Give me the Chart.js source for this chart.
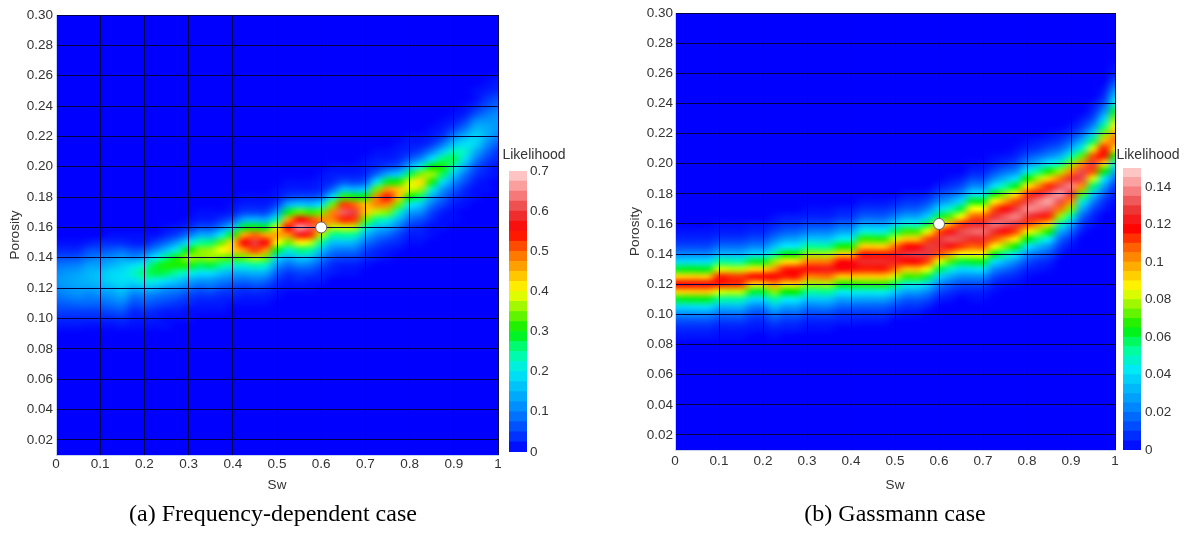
<!DOCTYPE html>
<html><head><meta charset="utf-8">
<script src="https://cdn.jsdelivr.net/npm/chart.js@4.4.0/dist/chart.umd.min.js"></script>
<style>
html,body{margin:0;padding:0;background:#fff;width:1189px;height:540px;overflow:hidden;position:relative}
.box{position:absolute}
.cap{position:absolute;top:499px;font-family:"Liberation Serif","Times New Roman",serif;font-size:24px;line-height:28px;color:#000;white-space:nowrap;transform:translateX(-50%)}
</style></head><body>
<div class="box" style="left:0;top:0;width:510px;height:500px"><canvas id="ca"></canvas></div>
<div class="box" style="left:620px;top:0;width:510px;height:500px"><canvas id="cb"></canvas></div>
<div class="box" style="left:499px;top:145px;width:70px;height:318px"><canvas id="cbarA"></canvas></div>
<div class="box" style="left:1113px;top:145px;width:70px;height:317px"><canvas id="cbarB"></canvas></div>
<div class="cap" style="left:273px">(a) Frequency-dependent case</div>
<div class="cap" style="left:895px">(b) Gassmann case</div>
<script>
// ---------- grid coordinates ----------
const swGrid = [0,0.025,0.05,0.075,0.1,0.125,0.15,0.175,0.2,0.225,0.25,0.275,0.3,0.325,0.35,0.375,0.4,0.425,0.45,0.475,0.5,0.525,0.55,0.575,0.6,0.625,0.65,0.675,0.7,0.725,0.75,0.775,0.8,0.825,0.85,0.875,0.9,0.925,0.95,0.975,1];
const porosityRows = [0.01,0.015,0.02,0.025,0.03,0.035,0.04,0.045,0.05,0.055,0.06,0.065,0.07,0.075,0.08,0.085,0.09,0.095,0.1,0.105,0.11,0.115,0.12,0.125,0.13,0.135,0.14,0.145,0.15,0.155,0.16,0.165,0.17,0.175,0.18,0.185,0.19,0.195,0.2,0.205,0.21,0.215,0.22,0.225,0.23,0.235,0.24,0.245,0.25,0.255,0.26,0.265,0.27,0.275,0.28,0.285,0.29,0.295,0.3];
const swTicks = [0,0.1,0.2,0.3,0.4,0.5,0.6,0.7,0.8,0.9,1];
const porosityTicks = [0.02,0.04,0.06,0.08,0.1,0.12,0.14,0.16,0.18,0.2,0.22,0.24,0.26,0.28,0.3];
const markerSw = [0.6];
const markerPorosity = [0.16];

// ---------- (a) frequency-dependent case: per Sw column, lowest listed porosity + likelihoods upward (0.005 steps) ----------
const bandStartA = [0.095,0.095,0.095,0.095,0.095,0.095,0.095,0.095,0.095,0.095,0.095,0.1,0.1,0.105,0.105,0.105,0.11,0.11,0.11,0.11,0.115,0.12,0.12,0.12,0.125,0.13,0.13,0.13,0.135,0.14,0.14,0.145,0.15,0.15,0.155,0.16,0.165,0.17,0.18,0.185,0.19];
const likelihoodA = [
 [.015,.03,.05,.07,.09,.11,.12,.11,.09,.06,.03,.01],
 [.015,.03,.05,.075,.1,.12,.13,.12,.095,.06,.03,.01],
 [.015,.03,.05,.08,.11,.13,.14,.13,.1,.065,.03,.01],
 [.01,.03,.05,.08,.10,.13,.15,.15,.13,.09,.06,.02],
 [.01,.03,.05,.08,.11,.14,.16,.16,.13,.10,.06,.03],
 [.01,.03,.06,.09,.12,.15,.18,.18,.15,.11,.07,.03,.01],
 [.016,.036,.066,.1,.14,.17,.19,.19,.17,.13,.08,.03,.01],
 [.01,.02,.03,.06,.09,.14,.19,.22,.19,.11,.06,.02,.01],
 [.01,.02,.04,.07,.10,.16,.22,.26,.22,.14,.07,.02,.01],
 [.01,.02,.03,.06,.09,.15,.21,.28,.28,.20,.11,.05,.01],
 [.01,.01,.02,.05,.08,.12,.19,.27,.31,.26,.16,.08,.03,.01],
 [.01,.02,.04,.07,.11,.17,.24,.31,.31,.22,.13,.05,.02],
 [.01,.01,.03,.05,.09,.14,.22,.31,.36,.30,.19,.09,.03,.01],
 [.01,.02,.04,.07,.12,.19,.27,.35,.35,.25,.14,.06,.02,.01],
 [.01,.02,.04,.08,.12,.19,.28,.36,.36,.26,.14,.06,.02,.01],
 [.01,.02,.03,.06,.10,.16,.25,.34,.40,.34,.21,.10,.04,.01],
 [.01,.03,.05,.09,.14,.23,.33,.43,.43,.31,.17,.07,.02,.01],
 [.01,.02,.04,.08,.14,.22,.34,.47,.55,.46,.29,.14,.05,.02,.01],
 [.01,.02,.05,.09,.15,.24,.37,.52,.60,.50,.31,.15,.05,.02,.01],
 [.01,.02,.04,.08,.14,.22,.34,.47,.55,.46,.29,.14,.05,.02,.01],
 [.01,.02,.04,.07,.12,.18,.29,.40,.46,.39,.24,.12,.05,.02,.01],
 [.01,.02,.04,.08,.14,.22,.34,.47,.55,.46,.29,.14,.05,.02,.01],
 [.01,.03,.05,.10,.17,.26,.41,.57,.66,.55,.34,.17,.06,.02,.01],
 [.01,.02,.05,.09,.16,.25,.38,.53,.62,.52,.32,.16,.06,.02,.01],
 [.02,.03,.06,.10,.16,.25,.37,.48,.48,.34,.19,.08,.03,.02,.01],
 [.02,.03,.06,.10,.16,.25,.37,.48,.48,.34,.19,.08,.03,.02,.01],
 [.01,.02,.05,.09,.16,.25,.38,.53,.62,.52,.32,.16,.06,.02,.01],
 [.01,.02,.05,.09,.15,.24,.37,.52,.60,.50,.31,.15,.05,.02,.01],
 [.01,.03,.05,.09,.15,.23,.34,.44,.44,.31,.17,.07,.03,.02,.01],
 [.02,.03,.06,.10,.16,.25,.37,.48,.48,.34,.19,.08,.03,.02,.01],
 [.01,.02,.04,.08,.14,.22,.35,.48,.56,.47,.29,.14,.05,.02,.01],
 [.01,.03,.05,.09,.15,.23,.34,.44,.44,.31,.17,.07,.03,.02,.01],
 [.01,.02,.04,.08,.13,.20,.30,.38,.38,.27,.15,.07,.03,.02,.01],
 [.01,.02,.03,.06,.11,.17,.26,.36,.42,.35,.22,.11,.05,.02,.01],
 [.01,.01,.03,.05,.09,.14,.22,.31,.36,.30,.19,.10,.04,.02,.01],
 [.01,.01,.02,.05,.08,.12,.19,.27,.31,.26,.17,.09,.04,.02,.01],
 [.01,.01,.02,.04,.07,.11,.17,.23,.27,.23,.16,.10,.05,.02,.01],
 [0,.01,.02,.03,.06,.09,.14,.19,.22,.19,.15,.09,.05,.02,.01],
 [.01,.01,.02,.04,.06,.10,.14,.18,.18,.15,.11,.06,.03,.01,.01],
 [.01,.01,.02,.03,.05,.08,.11,.14,.14,.12,.09,.06,.04,.02,.01],
 [0,.01,.01,.03,.04,.07,.10,.12,.12,.11,.08,.06,.03,.02,.01]
];

// ---------- (b) Gassmann case ----------
const bandStartB = [0.085,0.085,0.085,0.085,0.085,0.085,0.085,0.09,0.09,0.085,0.09,0.09,0.09,0.09,0.09,0.095,0.095,0.095,0.095,0.095,0.1,0.1,0.1,0.105,0.11,0.11,0.115,0.11,0.11,0.115,0.12,0.12,0.125,0.13,0.13,0.14,0.145,0.155,0.16,0.17,0.175];
const likelihoodB = [
 [.003,.006,.012,.022,.039,.061,.092,.118,.092,.061,.039,.022,.012,.006,.003],
 [.003,.006,.012,.023,.039,.062,.093,.119,.093,.062,.039,.023,.012,.006,.003],
 [.003,.006,.012,.023,.040,.062,.094,.120,.094,.062,.040,.023,.012,.006,.003],
 [.003,.006,.012,.023,.040,.062,.094,.120,.094,.062,.040,.023,.012,.006,.003],
 [.002,.004,.009,.018,.032,.053,.082,.115,.115,.082,.053,.032,.018,.009,.004,.002],
 [.002,.004,.009,.018,.032,.052,.080,.113,.113,.080,.052,.032,.018,.009,.004,.002],
 [.002,.004,.009,.018,.032,.051,.080,.112,.112,.080,.051,.032,.018,.009,.004,.002],
 [.003,.006,.012,.022,.039,.061,.091,.117,.091,.061,.039,.022,.012,.006,.003],
 [.003,.006,.012,.022,.039,.061,.092,.118,.092,.061,.039,.022,.012,.006,.003],
 [.002,.005,.011,.020,.034,.052,.076,.101,.118,.101,.076,.052,.034,.020,.011,.005,.002],
 [.004,.008,.015,.027,.043,.064,.090,.115,.115,.090,.064,.043,.027,.015,.008,.004],
 [.004,.008,.016,.028,.043,.065,.091,.116,.116,.091,.065,.043,.028,.016,.008,.004],
 [.002,.005,.011,.020,.035,.053,.077,.103,.120,.103,.077,.053,.035,.020,.011,.005,.002],
 [.002,.005,.011,.021,.035,.053,.077,.104,.121,.104,.077,.053,.035,.021,.011,.005,.002],
 [.002,.005,.011,.021,.035,.054,.078,.105,.122,.105,.078,.054,.035,.021,.011,.005,.002],
 [.004,.008,.016,.028,.044,.066,.093,.119,.119,.093,.066,.044,.028,.016,.008,.004],
 [.004,.008,.016,.029,.045,.067,.094,.120,.120,.094,.067,.045,.029,.016,.008,.004],
 [.003,.008,.015,.028,.045,.068,.093,.115,.125,.115,.093,.068,.045,.028,.015,.008,.003],
 [.003,.008,.015,.028,.045,.068,.093,.115,.125,.115,.093,.068,.045,.028,.015,.008,.003],
 [.003,.008,.015,.028,.045,.068,.093,.115,.125,.115,.093,.068,.045,.028,.015,.008,.003],
 [.005,.011,.021,.037,.057,.081,.106,.123,.123,.106,.081,.057,.037,.021,.011,.005],
 [.003,.008,.015,.028,.046,.069,.094,.117,.127,.117,.094,.069,.046,.028,.015,.008,.003],
 [.003,.008,.015,.028,.046,.070,.095,.119,.129,.119,.095,.070,.046,.028,.015,.008,.003],
 [.005,.012,.022,.038,.059,.084,.110,.128,.128,.110,.084,.059,.038,.022,.012,.005],
 [.005,.012,.022,.038,.059,.083,.109,.127,.127,.109,.083,.059,.038,.022,.012,.005],
 [.003,.008,.016,.029,.048,.071,.098,.121,.132,.121,.098,.071,.048,.029,.016,.008,.003],
 [.005,.012,.023,.039,.060,.085,.112,.130,.130,.112,.085,.060,.039,.023,.012,.005],
 [.002,.005,.012,.023,.040,.062,.086,.107,.125,.134,.125,.107,.086,.062,.040,.023,.012,.005,.002],
 [.002,.005,.012,.023,.041,.062,.086,.108,.126,.135,.126,.108,.086,.062,.041,.023,.012,.005,.002],
 [.002,.005,.012,.023,.041,.063,.087,.109,.126,.136,.126,.109,.087,.063,.041,.023,.012,.005,.002],
 [.003,.008,.018,.032,.052,.075,.099,.119,.133,.133,.119,.099,.075,.052,.032,.018,.008,.003],
 [.002,.006,.012,.023,.041,.063,.088,.110,.128,.138,.128,.110,.088,.063,.041,.023,.012,.006,.002],
 [.002,.006,.013,.024,.042,.064,.089,.111,.129,.139,.129,.111,.089,.064,.042,.024,.013,.006,.002],
 [.004,.008,.018,.032,.054,.078,.102,.123,.137,.137,.123,.102,.078,.054,.032,.018,.008,.004],
 [.002,.006,.013,.024,.043,.066,.092,.114,.133,.143,.133,.114,.092,.066,.043,.024,.013,.006,.002],
 [.004,.009,.017,.031,.051,.077,.105,.131,.142,.131,.105,.077,.051,.031,.017,.009,.004],
 [.003,.008,.017,.030,.050,.075,.102,.127,.138,.127,.102,.075,.050,.030,.017,.008,.003],
 [.004,.009,.017,.031,.048,.072,.102,.130,.130,.102,.072,.048,.031,.017,.009,.004],
 [.003,.006,.012,.022,.037,.056,.082,.110,.128,.110,.082,.056,.037,.022,.012,.006,.003],
 [.004,.008,.016,.028,.043,.065,.091,.116,.116,.096,.074,.054,.037,.023,.013,.007,.003],
 [.002,.005,.009,.018,.030,.046,.067,.090,.105,.098,.088,.074,.060,.046,.034,.022,.012,.005,.002]
];

// ---------- colour bar levels ----------
const levelsA = [0,0.025,0.05,0.075,0.1,0.125,0.15,0.175,0.2,0.225,0.25,0.275,0.3,0.325,0.35,0.375,0.4,0.425,0.45,0.475,0.5,0.525,0.55,0.575,0.6,0.625,0.65,0.675,0.7];
const levelsB = [0,0.005,0.01,0.015,0.02,0.025,0.03,0.035,0.04,0.045,0.05,0.055,0.06,0.065,0.07,0.075,0.08,0.085,0.09,0.095,0.1,0.105,0.11,0.115,0.12,0.125,0.13,0.135,0.14,0.145,0.15];
const colorbarTicksA = [0,0.1,0.2,0.3,0.4,0.5,0.6,0.7];
const colorbarTicksB = [0,0.02,0.04,0.06,0.08,0.1,0.12,0.14];

// ---------- styling ----------
const FONT = '"Liberation Sans", Arial, sans-serif';
const TXT = '#333';
const GRID = 'rgb(0,0,70)';
const cmapStops = [[0,[0,0,255]],[0.143,[0,130,255]],[0.286,[0,235,245]],[0.357,[0,255,150]],[0.429,[0,240,0]],[0.5,[130,245,0]],[0.571,[255,255,0]],[0.643,[255,180,0]],[0.714,[255,100,0]],[0.786,[255,0,0]],[0.857,[235,60,60]],[0.929,[250,140,140]],[1,[255,215,215]]];
function cmap(t){
  t = Math.max(0, Math.min(1, t));
  for (let i = 1; i < cmapStops.length; i++) {
    if (t <= cmapStops[i][0]) {
      const [t0,c0] = cmapStops[i-1], [t1,c1] = cmapStops[i];
      const f = (t - t0) / (t1 - t0);
      return [0,1,2].map(k => Math.round(c0[k] + (c1[k]-c0[k]) * f));
    }
  }
  return cmapStops[cmapStops.length-1][1];
}
const rgb = c => `rgb(${c[0]},${c[1]},${c[2]})`;

function buildCells(starts, lists){
  const step = porosityRows[1] - porosityRows[0];
  const cells = [];
  lists.forEach((col, i) => col.forEach((v, j) => {
    cells.push({x: swGrid[i], y: Math.round((starts[i] + j*step)*10000)/10000, v: v});
  }));
  return cells;
}

const heatmapPlugin = {
  id: 'heatmap',
  beforeDraw(chart){
    const ds = chart.data.datasets[0];
    if (!ds || !ds.heat) return;
    const xs = chart.scales.x, ys = chart.scales.y, a = chart.chartArea, ctx = chart.ctx;
    const nc = swGrid.length, nr = porosityRows.length;
    const dx = swGrid[1]-swGrid[0], dy = porosityRows[1]-porosityRows[0];
    const vals = new Float32Array(nc*nr);
    ds.data.forEach(c => {
      const ci = Math.round((c.x - swGrid[0])/dx), ri = Math.round((c.y - porosityRows[0])/dy);
      if (ci>=0 && ci<nc && ri>=0 && ri<nr) vals[ri*nc+ci] = c.v;
    });
    const off = document.createElement('canvas'); off.width = nc; off.height = nr;
    const octx = off.getContext('2d'); const img = octx.createImageData(nc, nr);
    for (let r = 0; r < nr; r++) for (let c = 0; c < nc; c++) {
      const col = cmap(vals[r*nc+c] / ds.vmax);
      const k = ((nr-1-r)*nc + c) * 4;
      img.data[k] = col[0]; img.data[k+1] = col[1]; img.data[k+2] = col[2]; img.data[k+3] = 255;
    }
    octx.putImageData(img, 0, 0);
    const x0 = xs.getPixelForValue(swGrid[0]-dx/2), x1 = xs.getPixelForValue(swGrid[nc-1]+dx/2);
    const yT = ys.getPixelForValue(porosityRows[nr-1]+dy/2), yB = ys.getPixelForValue(porosityRows[0]-dy/2);
    ctx.save();
    ctx.beginPath(); ctx.rect(a.left, a.top, a.right-a.left, a.bottom-a.top); ctx.clip();
    ctx.fillStyle = rgb(cmap(0)); ctx.fillRect(a.left, a.top, a.right-a.left, a.bottom-a.top);
    ctx.imageSmoothingEnabled = true; ctx.imageSmoothingQuality = 'high';
    ctx.drawImage(off, x0, yT, x1-x0, yB-yT);
    ctx.restore();
  }
};

function mainChart(id, cells, vmax, lay){
  return new Chart(document.getElementById(id), {
    type: 'scatter',
    data: { datasets: [
      { label: 'Likelihood', data: cells, heat: true, vmax: vmax, pointRadius: 0, pointHoverRadius: 0 },
      { label: 'True model', data: markerSw.map((s,i) => ({x: s, y: markerPorosity[i]})), pointRadius: 5.5, backgroundColor: '#ffffff', borderColor: '#666', borderWidth: 1 }
    ]},
    options: {
      responsive: true, maintainAspectRatio: false, animation: false, events: [],
      layout: { padding: lay.padding },
      plugins: { legend: {display: false}, tooltip: {enabled: false} },
      scales: {
        x: { type: 'linear', min: 0, max: 1,
             afterBuildTicks: s => { s.ticks = swTicks.map(v => ({value: v})); },
             afterFit: s => { s.height = lay.xh; },
             ticks: { color: TXT, font: {family: FONT, size: 13.5}, padding: lay.xpad, maxRotation: 0, autoSkip: false, callback: v => String(+(+v).toFixed(2)) },
             grid: { color: GRID, lineWidth: 1, drawTicks: false },
             border: { display: true, color: '#c9d2ee', width: 1 },
             title: { display: true, text: 'Sw', color: TXT, font: {family: FONT, size: 13.5}, padding: {top: 0, bottom: 7} } },
        y: { type: 'linear', min: 0.01, max: 0.30,
             afterBuildTicks: s => { s.ticks = porosityTicks.map(v => ({value: v})); },
             afterFit: s => { s.width = lay.yw; },
             ticks: { color: TXT, font: {family: FONT, size: 13.5}, padding: lay.ypad, autoSkip: false, callback: v => (+v).toFixed(2) },
             grid: { color: GRID, lineWidth: 1, drawTicks: false },
             border: { display: true, color: '#c9d2ee', width: 1 },
             title: { display: true, text: 'Porosity', color: TXT, font: {family: FONT, size: 13.5}, padding: {top: 7, bottom: 0} } }
      }
    },
    plugins: [heatmapPlugin]
  });
}

function colorbar(id, levels, ticks, vmax, lay){
  const datasets = [];
  for (let i = 0; i < levels.length-1; i++) {
    datasets.push({ data: [[levels[i], levels[i+1]]], backgroundColor: rgb(cmap((levels[i]+levels[i+1])/2/vmax)),
      borderWidth: 0, barPercentage: 1, categoryPercentage: 1, grouped: false, yAxisID: 'y' });
  }
  return new Chart(document.getElementById(id), {
    type: 'bar',
    data: { labels: [''], datasets: datasets },
    options: {
      responsive: true, maintainAspectRatio: false, animation: false, events: [],
      layout: { padding: lay.padding },
      plugins: { legend: {display: false}, tooltip: {enabled: false},
        title: { display: true, text: 'Likelihood', color: TXT, font: {family: FONT, size: 14, weight: 'normal'}, padding: {top: 2, bottom: lay.tb} } },
      scales: {
        x: { display: false },
        gap: { type: 'linear', position: 'left', display: true, ticks: {display: false}, grid: {display: false, drawTicks: false}, border: {display: false},
               afterFit: s => { s.width = lay.lw; } },
        y: { position: 'right', min: 0, max: vmax,
             afterBuildTicks: s => { s.ticks = ticks.map(v => ({value: v})); },
             afterFit: s => { s.width = lay.yw; },
             ticks: { color: TXT, font: {family: FONT, size: 13.5}, padding: lay.tp, callback: v => String(+(+v).toFixed(3)) },
             grid: { display: false, drawTicks: false },
             border: { display: false } }
      }
    }
  });
}

mainChart('ca', buildCells(bandStartA, likelihoodA), 0.7, {padding: {left: 0, top: 15, right: 12, bottom: 0}, xh: 45, yw: 56, xpad: 1, ypad: 3});
mainChart('cb', buildCells(bandStartB, likelihoodB), 0.15, {padding: {left: 0, top: 13, right: 15, bottom: 0}, xh: 50, yw: 55, xpad: 3, ypad: 2});
colorbar('cbarA', levelsA, colorbarTicksA, 0.7, {padding: {left: 0, right: 0, top: 0, bottom: 10}, tb: 7.2, lw: 10, yw: 42, tp: 3});
colorbar('cbarB', levelsB, colorbarTicksB, 0.15, {padding: {left: 0, right: 0, top: 0, bottom: 10}, tb: 4.2, lw: 10, yw: 42, tp: 4});
</script>
</body></html>
